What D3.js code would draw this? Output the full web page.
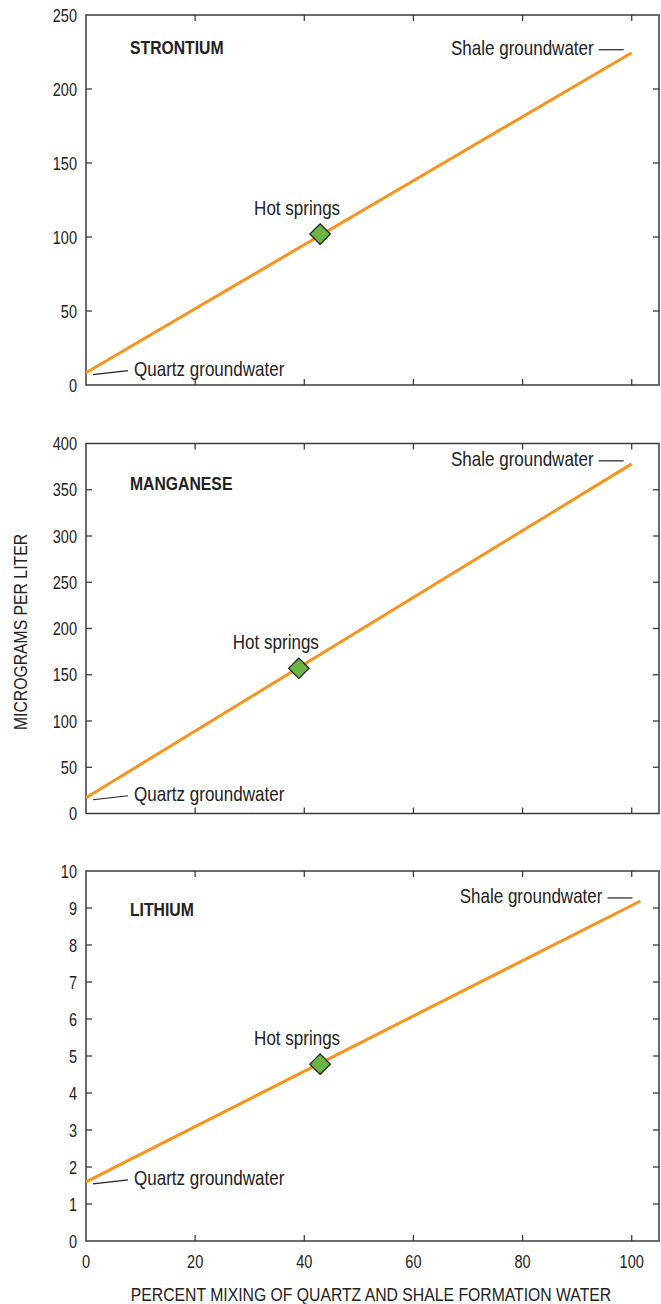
<!DOCTYPE html>
<html>
<head>
<meta charset="utf-8">
<script src="https://cdn.jsdelivr.net/npm/d3@7"></script>
<style>
  body { margin: 0; background: #fff; }
  svg text { font-family: "Liberation Sans", Arial, sans-serif; fill: #222; }
</style>
</head>
<body>
<div id="chart"></div>
<script>
// data
const panelNames = ["STRONTIUM", "MANGANESE", "LITHIUM"];
const yMax = [250, 400, 10];
const yStep = [50, 50, 1];
const xTicks = [0, 20, 40, 60, 80, 100];
const quartzX = [0, 0, 0];
const quartzY = [8.3, 17, 1.6];
const shaleX = [100, 100, 101.6];
const shaleY = [224.5, 378, 9.19];
const hotX = [42.9, 39, 42.9];
const hotY = [102, 157, 4.78];

const W = 661, H = 1304;
const left = 86, right = 659, panelH = 370;
const panelTop = [15, 443.5, 871];
const titleDy = [39, 46, 45];
const narrow = 0.83; // squeeze Liberation Sans to look like a condensed face

const svg = d3.select("#chart").append("svg")
  .attr("width", W).attr("height", H);

// condensed text helper
function label(sel, px, py, txt, size, anchor, extra) {
  const t = sel.append("text")
    .attr("transform", "translate(" + px + "," + py + ")" + (extra || "") + " scale(" + narrow + ",1)")
    .attr("text-anchor", anchor || "start")
    .style("font-size", size + "px")
    .text(txt);
  return t;
}

const x = d3.scaleLinear().domain([0, 105]).range([left, right]);

panelNames.forEach(function (name, i) {
  const top = panelTop[i], bottom = top + panelH;
  const y = d3.scaleLinear().domain([0, yMax[i]]).range([bottom, top]);
  const yTicks = d3.range(0, yMax[i] + yStep[i] / 2, yStep[i]);
  const g = svg.append("g");

  // frame
  g.append("rect")
    .attr("x", left).attr("y", top)
    .attr("width", right - left).attr("height", panelH)
    .attr("fill", "none").attr("stroke", "#3a3a3a").attr("stroke-width", 1.5);

  // inward ticks on all sides
  const tickLen = 6;
  g.selectAll(".xt").data(xTicks.slice(1)).enter().append("line")
    .attr("x1", d => x(d)).attr("x2", d => x(d))
    .attr("y1", bottom).attr("y2", bottom - tickLen)
    .attr("stroke", "#3a3a3a").attr("stroke-width", 1.3);
  g.selectAll(".xtt").data(xTicks.slice(1)).enter().append("line")
    .attr("x1", d => x(d)).attr("x2", d => x(d))
    .attr("y1", top).attr("y2", top + tickLen)
    .attr("stroke", "#3a3a3a").attr("stroke-width", 1.3);
  g.selectAll(".yt").data(yTicks.slice(1, -1)).enter().append("line")
    .attr("x1", left).attr("x2", left + tickLen)
    .attr("y1", d => y(d)).attr("y2", d => y(d))
    .attr("stroke", "#3a3a3a").attr("stroke-width", 1.3);
  g.selectAll(".ytr").data(yTicks.slice(1, -1)).enter().append("line")
    .attr("x1", right).attr("x2", right - tickLen)
    .attr("y1", d => y(d)).attr("y2", d => y(d))
    .attr("stroke", "#3a3a3a").attr("stroke-width", 1.3);

  // y tick labels
  yTicks.forEach(function (d) {
    label(g, left - 9, y(d) + 6.5, d, 17.5, "end");
  });

  // title
  label(g, 130, top + titleDy[i], name, 19, "start").style("font-weight", "bold");

  // mixing line
  const p0 = [x(quartzX[i]), y(quartzY[i])];
  const p1 = [x(shaleX[i]), y(shaleY[i])];
  g.append("line")
    .attr("x1", p0[0]).attr("y1", p0[1])
    .attr("x2", p1[0]).attr("y2", p1[1])
    .attr("stroke", "#f7941d").attr("stroke-width", 3);

  // quartz annotation
  g.append("line")
    .attr("x1", p0[0] + 7).attr("y1", p0[1] + 2)
    .attr("x2", p0[0] + 42).attr("y2", p0[1] - 2)
    .attr("stroke", "#222").attr("stroke-width", 1.2);
  label(g, p0[0] + 48, p0[1] + 3, "Quartz groundwater", 20.5, "start");

  // shale annotation
  g.append("line")
    .attr("x1", p1[0] - 33).attr("y1", p1[1] - 3)
    .attr("x2", p1[0] - 8).attr("y2", p1[1] - 3)
    .attr("stroke", "#222").attr("stroke-width", 1.2);
  label(g, p1[0] - 38, p1[1] + 2, "Shale groundwater", 20.5, "end");

  // hot springs point
  const hx = x(hotX[i]), hy = y(hotY[i]);
  g.append("path")
    .attr("d", d3.symbol().type(d3.symbolSquare).size(210)())
    .attr("transform", "translate(" + hx + "," + hy + ") rotate(45)")
    .attr("fill", "#6ab544").attr("stroke", "#1a1a1a").attr("stroke-width", 1.2);
  label(g, hx - 23, hy - 19, "Hot springs", 20.5, "middle");

  // x tick labels only on bottom panel
  if (i === panelNames.length - 1) {
    xTicks.forEach(function (d) {
      label(g, x(d), bottom + 27, d, 17.5, "middle");
    });
  }
});

// axis titles
label(svg, 27, 632, "MICROGRAMS PER LITER", 19, "middle", " rotate(-90)");
label(svg, 371, 1301, "PERCENT MIXING OF QUARTZ AND SHALE FORMATION WATER", 19, "middle");
</script>
</body>
</html>
